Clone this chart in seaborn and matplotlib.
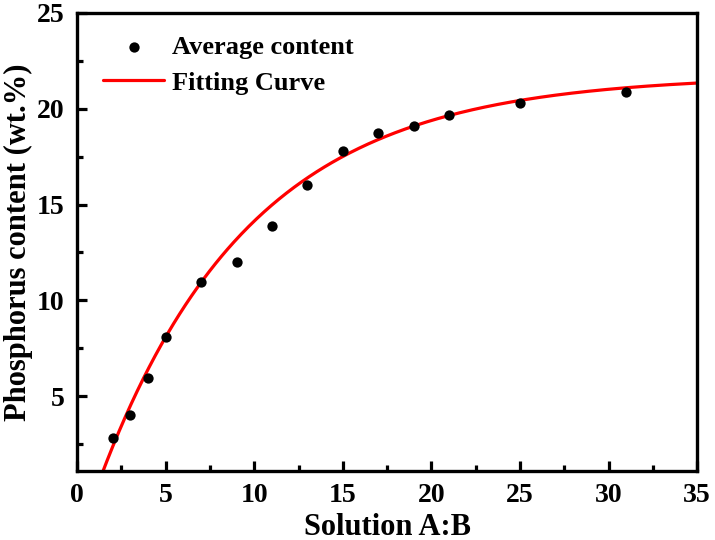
import numpy as np
import pandas as pd
import matplotlib.pyplot as plt
import seaborn as sns

ratio = [2, 3, 4, 5, 7, 9, 11, 13, 15, 17, 19, 21, 25, 31]
content = [2.8, 4.0, 5.95, 8.1, 10.95, 12.0, 13.9, 16.0, 17.8, 18.75, 19.1, 19.65, 20.3, 20.9]

# fitted curve y = y0 - A*exp(-x/t), parameters estimated from the red line in the chart
y0, amp, tau = 21.75, 24.5, 8.55
xf = np.linspace(1.0, 35, 400)
fit = pd.DataFrame({"x": xf, "y": y0 - amp * np.exp(-xf / tau)})
pts = pd.DataFrame({"x": ratio, "y": content})

sns.set_style("ticks")
plt.rcParams["font.family"] = ["Liberation Serif", "DejaVu Serif"]
plt.rcParams["font.weight"] = "bold"

fig = plt.figure(figsize=(7.15, 5.4), dpi=100)
ax = fig.add_axes([0.108, 0.128, 0.867, 0.848])

sns.scatterplot(data=pts, x="x", y="y", ax=ax, color="black", s=55, edgecolor="black",
                linewidth=0, label="Average content", zorder=3)
sns.lineplot(data=fit, x="x", y="y", ax=ax, color="red", lw=2.3, label="Fitting Curve", zorder=2)

ax.set_xlim(0, 35)
ax.set_ylim(1.1, 25)
ax.set_xticks(range(0, 36, 5))
ax.set_yticks([5, 10, 15, 20, 25])
ax.set_xticks(np.arange(2.5, 35, 5), minor=True)
ax.set_yticks(np.arange(2.5, 25, 5), minor=True)
ax.tick_params(which="major", direction="in", length=7, width=2.3, labelsize=20, pad=9,
               color="black", labelcolor="black")
ax.tick_params(which="minor", direction="in", length=4, width=2.3, color="black")
ax.tick_params(top=False, right=False, which="both")
for lab in ax.get_xticklabels() + ax.get_yticklabels():
    lab.set_fontweight("bold")
for s in ax.spines.values():
    s.set_linewidth(2.4)
    s.set_color("black")
    s.set_visible(True)

ax.set_xlabel("Solution A:B", fontsize=22, fontweight="bold", labelpad=3, color="black")
ax.set_ylabel("Phosphorus content (wt.%)", fontsize=22, fontweight="bold", labelpad=3, color="black")

leg = ax.legend(loc="upper left", frameon=False, fontsize=19, handlelength=2.3,
                handletextpad=0.3, borderpad=0, borderaxespad=0, labelspacing=0.45,
                bbox_to_anchor=(0.042, 0.95))
for t in leg.get_texts():
    t.set_fontweight("bold")
    t.set_color("black")

fig.savefig("out.png", dpi=100)
